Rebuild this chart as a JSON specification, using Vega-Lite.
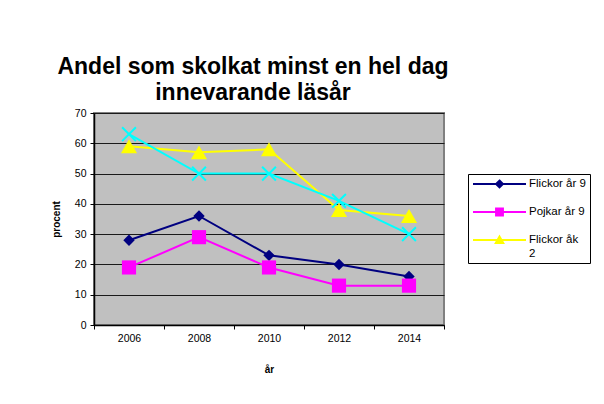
{
  "$schema": "https://vega.github.io/schema/vega-lite/v6.json",
  "width": 350,
  "height": 212,
  "autosize": {"type": "none"},
  "padding": {"left": 94, "top": 113, "right": 160, "bottom": 79},
  "background": "white",
  "title": {
    "text": ["Andel som skolkat minst en hel dag", "innevarande läsår"],
    "font": "Liberation Sans",
    "fontSize": 23,
    "fontWeight": "bold",
    "color": "black",
    "anchor": "middle",
    "dx": -16,
    "offset": 3,
    "lineHeight": 26
  },
  "config": {
    "font": "Liberation Sans",
    "view": {"fill": "#c0c0c0", "stroke": "#808080", "strokeWidth": 2},
    "legend": {"strokeWidth": 1},
    "axis": {
      "labelFont": "Liberation Sans",
      "labelFontSize": 10.5,
      "labelColor": "black",
      "titleFont": "Liberation Sans",
      "titleFontSize": 10,
      "titleFontWeight": "bold",
      "titleColor": "black",
      "domainColor": "black",
      "domainWidth": 1.5,
      "tickColor": "black",
      "tickSize": 4,
      "tickWidth": 1
    }
  },
  "data": {
    "values": [
      {"år": "2006", "serie": "Flickor år 9", "procent": 28},
      {"år": "2008", "serie": "Flickor år 9", "procent": 36},
      {"år": "2010", "serie": "Flickor år 9", "procent": 23},
      {"år": "2012", "serie": "Flickor år 9", "procent": 20},
      {"år": "2014", "serie": "Flickor år 9", "procent": 16},
      {"år": "2006", "serie": "Pojkar år 9", "procent": 19},
      {"år": "2008", "serie": "Pojkar år 9", "procent": 29},
      {"år": "2010", "serie": "Pojkar år 9", "procent": 19},
      {"år": "2012", "serie": "Pojkar år 9", "procent": 13},
      {"år": "2014", "serie": "Pojkar år 9", "procent": 13},
      {"år": "2006", "serie": "Flickor åk 2", "procent": 59},
      {"år": "2008", "serie": "Flickor åk 2", "procent": 57},
      {"år": "2010", "serie": "Flickor åk 2", "procent": 58},
      {"år": "2012", "serie": "Flickor åk 2", "procent": 38},
      {"år": "2014", "serie": "Flickor åk 2", "procent": 36},
      {"år": "2006", "serie": "Pojkar åk 2", "procent": 63},
      {"år": "2008", "serie": "Pojkar åk 2", "procent": 50},
      {"år": "2010", "serie": "Pojkar åk 2", "procent": 50},
      {"år": "2012", "serie": "Pojkar åk 2", "procent": 41},
      {"år": "2014", "serie": "Pojkar åk 2", "procent": 30}
    ]
  },
  "encoding": {
    "x": {
      "field": "år",
      "type": "nominal",
      "sort": null,
      "scale": {"type": "band", "paddingInner": 0, "paddingOuter": 0},
      "axis": {
        "title": "år",
        "labelAngle": 0,
        "tickBand": "extent",
        "grid": false,
        "labelPadding": 4,
        "titlePadding": 21
      }
    },
    "y": {
      "field": "procent",
      "type": "quantitative",
      "scale": {"domain": [0, 70], "nice": false},
      "axis": {
        "title": "procent",
        "values": [0, 10, 20, 30, 40, 50, 60, 70],
        "grid": true,
        "gridColor": "#1a1a1a",
        "gridWidth": 1,
        "labelPadding": 4,
        "titlePadding": 13
      }
    }
  },
  "layer": [
    {
      "transform": [{"filter": "datum.serie != 'Pojkar åk 2'"}],
      "mark": {"type": "line", "strokeWidth": 2},
      "encoding": {
        "color": {
          "field": "serie",
          "type": "nominal",
          "scale": {
            "domain": ["Flickor år 9", "Pojkar år 9", "Flickor åk 2"],
            "range": ["#000080", "#ff00ff", "#ffff00"]
          },
          "legend": {
            "title": null,
            "orient": "none",
            "legendX": 374,
            "legendY": 61,
            "strokeColor": "black",
            "fillColor": "white",
            "padding": 4,
            "labelFont": "Liberation Sans",
            "labelFontSize": 11.5,
            "labelColor": "black",
            "symbolSize": 2809,
            "symbolStrokeWidth": 2,
            "rowPadding": 12,
            "labelOffset": 2,
            "labelExpr": "datum.label == 'Flickor åk 2' ? ['Flickor åk', '2'] : datum.label",
            "encode": {
              "symbols": {
                "update": {
                  "shape": {"signal": "datum.value == 'Flickor år 9' ? 'M-1,0H1M0,-0.13L0.13,0L0,0.13L-0.13,0Z' : datum.value == 'Pojkar år 9' ? 'M-1,0H1M-0.13,-0.13H0.13V0.13H-0.13Z' : 'M-1,0H1M0,-0.13L0.14,0.11L-0.14,0.11Z'"},
                  "fill": {"signal": "scale('color', datum.value)"},
                  "stroke": {"signal": "scale('color', datum.value)"},
                  "y": {"value": 6}
                }
              },
              "labels": {
                "update": {
                  "y": {"value": 0},
                  "baseline": {"value": "top"}
                }
              }
            }
          }
        }
      }
    },
    {
      "transform": [{"filter": "datum.serie == 'Flickor år 9'"}],
      "mark": {"type": "point", "filled": true, "opacity": 1, "shape": "diamond", "size": 130, "color": "#000080"},
      "encoding": {}
    },
    {
      "transform": [{"filter": "datum.serie == 'Pojkar år 9'"}],
      "mark": {"type": "point", "filled": true, "opacity": 1, "shape": "square", "size": 200, "color": "#ff00ff"},
      "encoding": {}
    },
    {
      "transform": [{"filter": "datum.serie == 'Flickor åk 2'"}],
      "mark": {"type": "point", "filled": true, "opacity": 1, "shape": "triangle-up", "size": 260, "color": "#ffff00"},
      "encoding": {}
    },
    {
      "transform": [{"filter": "datum.serie == 'Pojkar åk 2'"}],
      "mark": {"type": "line", "strokeWidth": 2, "color": "#00ffff"},
      "encoding": {}
    },
    {
      "transform": [{"filter": "datum.serie == 'Pojkar åk 2'"}],
      "mark": {
        "type": "point",
        "shape": "M-1,-1L1,1M-1,1L1,-1",
        "filled": false,
        "stroke": "#00ffff",
        "strokeWidth": 2,
        "size": 190,
        "opacity": 1
      },
      "encoding": {}
    }
  ]
}
